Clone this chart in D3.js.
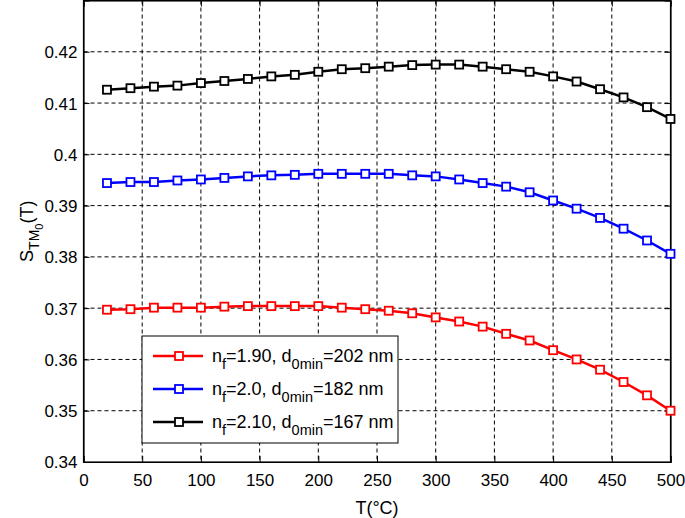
<!DOCTYPE html>
<html>
<head>
<meta charset="utf-8">
<script src="https://cdn.jsdelivr.net/npm/d3@7"></script>
<style>
  html, body { margin: 0; padding: 0; background: #fff; }
  svg { display: block; font-family: "Liberation Sans", Arial, sans-serif; }
</style>
</head>
<body>
<div id="chart"></div>
<script>
// temperature samples (°C)
const temps = [20, 40, 60, 80, 100, 120, 140, 160, 180, 200, 220, 240, 260,
  280, 300, 320, 340, 360, 380, 400, 420, 440, 460, 480, 500];

const sRed = [0.3697, 0.3698, 0.3701, 0.3701, 0.3701, 0.3703, 0.3704, 0.3704, 0.3704,
  0.3704, 0.3701, 0.3698, 0.3695, 0.3690, 0.3682, 0.3674, 0.3664, 0.3650, 0.3637,
  0.3618, 0.3600, 0.3580, 0.3556, 0.3530, 0.3500];
const sBlue = [0.3944, 0.3946, 0.3946, 0.3949, 0.3951, 0.3954, 0.3957, 0.3959, 0.3960,
  0.3962, 0.3962, 0.3962, 0.3962, 0.3959, 0.3957, 0.3951, 0.3944, 0.3937, 0.3926,
  0.3910, 0.3894, 0.3876, 0.3855, 0.3832, 0.3806];
const sBlack = [0.4126, 0.4129, 0.4132, 0.4134, 0.4139, 0.4143, 0.4147, 0.4152, 0.4155,
  0.4161, 0.4166, 0.4168, 0.4171, 0.4174, 0.4175, 0.4175, 0.4171, 0.4166, 0.4161,
  0.4152, 0.4142, 0.4127, 0.4111, 0.4092, 0.4069];

const xTicks = [0, 50, 100, 150, 200, 250, 300, 350, 400, 450, 500];
const yTicks = [0.34, 0.35, 0.36, 0.37, 0.38, 0.39, 0.40, 0.41, 0.42];
const yTickLabels = ['0.34', '0.35', '0.36', '0.37', '0.38', '0.39', '0.4', '0.41', '0.42'];

const seriesNames = [
  { n: '1.90', d: '202' },
  { n: '2.0', d: '182' },
  { n: '2.10', d: '167' },
];
const seriesColors = ['#ff0000', '#0000ff', '#000000'];
const seriesValues = [sRed, sBlue, sBlack];

const W = 685, H = 518;
const margin = { left: 83.5, right: 14.5, top: 0.5, bottom: 56 };
const iw = W - margin.left - margin.right;
const ih = H - margin.top - margin.bottom;

const svg = d3.select('#chart').append('svg')
  .attr('width', W)
  .attr('height', H);

const x = d3.scaleLinear().domain([0, 500]).range([0, iw]);
const y = d3.scaleLinear().domain([0.34, 0.43]).range([ih, 0]);

const g = svg.append('g').attr('transform', `translate(${margin.left},${margin.top})`);

// grid
g.append('g')
  .selectAll('line')
  .data(xTicks.slice(1, -1))
  .join('line')
  .attr('x1', d => x(d)).attr('x2', d => x(d))
  .attr('y1', 0).attr('y2', ih)
  .attr('stroke', '#000').attr('stroke-width', 1)
  .attr('stroke-dasharray', '4,3');
g.append('g')
  .selectAll('line')
  .data(yTicks.slice(1))
  .join('line')
  .attr('x1', 0).attr('x2', iw)
  .attr('y1', d => y(d)).attr('y2', d => y(d))
  .attr('stroke', '#000').attr('stroke-width', 1)
  .attr('stroke-dasharray', '4,3');

// axes with inward ticks on all sides
const tickLen = 6;
const fontSize = 17;
const xAxis = d3.axisBottom(x).tickValues(xTicks).tickSize(-tickLen).tickPadding(12);
const yAxis = d3.axisLeft(y).tickValues(yTicks)
  .tickFormat((d, i) => yTickLabels[i]).tickSize(-tickLen).tickPadding(6);

const gx = g.append('g').attr('transform', `translate(0,${ih})`).call(xAxis);
const gy = g.append('g').call(yAxis);
g.append('g').call(d3.axisTop(x).tickValues(xTicks).tickSize(-tickLen).tickFormat(''));
g.append('g').attr('transform', `translate(${iw},0)`)
  .call(d3.axisRight(y).tickValues(yTicks).tickSize(-tickLen).tickFormat(''));

g.selectAll('.domain').attr('stroke', '#000').attr('stroke-width', 1.2);
g.selectAll('.tick line').attr('stroke', '#000').attr('stroke-width', 1);
[gx, gy].forEach(a => a.selectAll('text')
  .attr('font-size', fontSize)
  .attr('font-family', '"Liberation Sans", Arial, sans-serif')
  .attr('fill', '#000'));
gy.selectAll('text').attr('dy', '0.35em');

// box
g.append('rect')
  .attr('width', iw).attr('height', ih)
  .attr('fill', 'none').attr('stroke', '#000').attr('stroke-width', 1.2);

// series
const line = d3.line().x(d => x(d[0])).y(d => y(d[1]));
seriesValues.forEach((vals, si) => {
  const pts = temps.map((t, i) => [t, vals[i]]);
  const sg = g.append('g');
  sg.append('path')
    .datum(pts)
    .attr('d', line)
    .attr('fill', 'none')
    .attr('stroke', seriesColors[si])
    .attr('stroke-width', 2.5);
  sg.selectAll('rect')
    .data(pts)
    .join('rect')
    .attr('x', d => x(d[0]) - 4)
    .attr('y', d => y(d[1]) - 4)
    .attr('width', 8).attr('height', 8)
    .attr('fill', '#fff')
    .attr('stroke', seriesColors[si])
    .attr('stroke-width', 1.8);
});

// legend
const legX = 142 - margin.left, legY = 336 - margin.top;
const legW = 256, legH = 107;
const leg = g.append('g').attr('transform', `translate(${legX},${legY})`);
leg.append('rect')
  .attr('width', legW).attr('height', legH)
  .attr('fill', '#fff').attr('stroke', '#000').attr('stroke-width', 1);

const legFont = 18, legSub = 14.5;
seriesNames.forEach((s, i) => {
  const ry = 20 + i * 33;
  const row = leg.append('g').attr('transform', `translate(0,${ry})`);
  row.append('line')
    .attr('x1', 11).attr('x2', 61)
    .attr('stroke', seriesColors[i]).attr('stroke-width', 2.5);
  row.append('rect')
    .attr('x', 33).attr('y', -4).attr('width', 8).attr('height', 8)
    .attr('fill', '#fff').attr('stroke', seriesColors[i]).attr('stroke-width', 1.8);
  const t = row.append('text')
    .attr('x', 70).attr('y', 6)
    .attr('font-size', legFont).attr('fill', '#000');
  t.append('tspan').text('n');
  t.append('tspan').attr('dy', 7).attr('font-size', legSub).text('f');
  t.append('tspan').attr('dy', -7).text(`=${s.n}, d`);
  t.append('tspan').attr('dy', 7).attr('font-size', legSub).text('0min');
  t.append('tspan').attr('dy', -7).text(`=${s.d} nm`);
});

// axis titles
svg.append('text')
  .attr('x', margin.left + iw / 2)
  .attr('y', 514)
  .attr('text-anchor', 'middle')
  .attr('font-size', 18)
  .text('T(°C)');

const yl = svg.append('text')
  .attr('transform', `translate(33,${margin.top + ih / 2}) rotate(-90)`)
  .attr('text-anchor', 'middle')
  .attr('font-size', 18);
yl.append('tspan').text('S');
yl.append('tspan').attr('dy', 6).attr('font-size', 14).text('TM');
yl.append('tspan').attr('dy', 4).attr('font-size', 11).text('0');
yl.append('tspan').attr('dy', -10).text('(T)');
</script>
</body>
</html>
